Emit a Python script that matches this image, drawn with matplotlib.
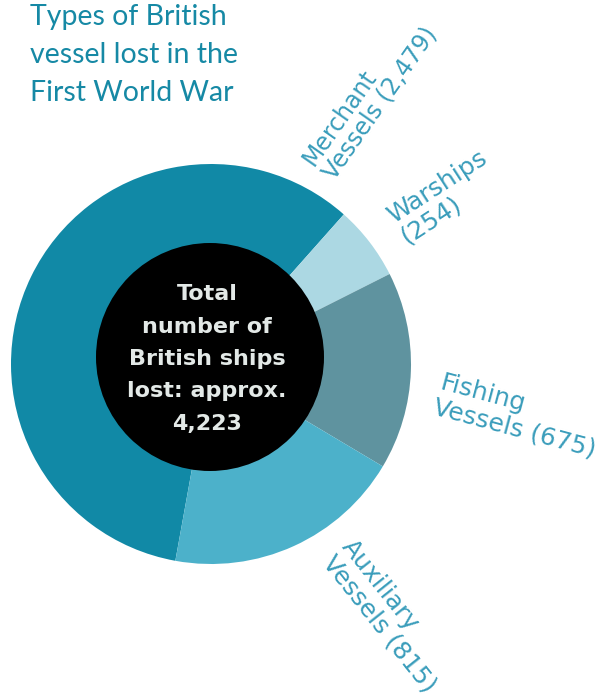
import matplotlib
matplotlib.use("Agg")
import matplotlib.pyplot as plt
from matplotlib.patches import Circle

# Data
categories = ["Merchant Vessels", "Warships", "Fishing Vessels", "Auxiliary Vessels"]
values = [2479, 254, 675, 815]
label_texts = ["Merchant\nVessels (2,479)", "Warships\n(254)", "Fishing\nVessels (675)", "Auxiliary\nVessels (815)"]
total_text = "Total\nnumber of\nBritish ships\nlost: approx.\n4,223"
title = "Types of British\nvessel lost in the\nFirst World War"

colors = ["#1189a6", "#acd8e3", "#5f939f", "#4cb1ca"]
label_color = "#3a9dbb"

W, H = 607, 697
fig = plt.figure(figsize=(W / 100, H / 100), dpi=100)
ax = fig.add_axes([0, 0, 1, 1])

def Y(py):
    return H - py

cx, cy, R = 211, Y(364), 200
total = sum(values)
start = 48.4 + 360 * values[0] / total
ax.pie(values, colors=colors, startangle=start, counterclock=False,
       center=(cx, cy), radius=R, wedgeprops=dict(linewidth=0))

ax.add_patch(Circle((210, Y(357)), 114, facecolor="black", edgecolor="none", zorder=5))
ax.text(207, Y(359), total_text, ha="center", va="center", color="#e3e9e7",
        fontsize=16, fontweight="bold", family=["DejaVu Sans"], linespacing=1.77, zorder=6)

ax.text(30, Y(4), title, ha="left", va="top", color="#1689a5",
        fontsize=20.5, family=["Lato", "DejaVu Sans"], linespacing=1.58)

label_pos = [(370, 96), (444, 197), (518, 416), (389, 616)]
label_rot = [55, 33, -15, -51.5]
label_size = [17, 18, 18, 18]
for txt, (lx, ly), rot, fs in zip(label_texts, label_pos, label_rot, label_size):
    ax.text(lx, Y(ly), txt, ha="center", va="center", rotation=rot,
            rotation_mode="anchor", color=label_color, fontsize=fs,
            family=["DejaVu Sans"], linespacing=1.05, multialignment="left")

ax.set_xlim(0, W)
ax.set_ylim(0, H)
ax.set_aspect("equal")
ax.axis("off")
fig.savefig("out.png", dpi=100)
